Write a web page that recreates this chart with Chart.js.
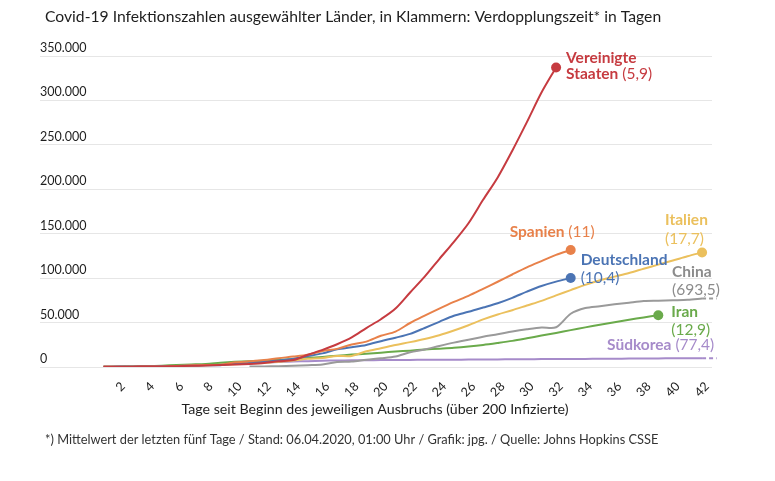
<!DOCTYPE html>
<html lang="de">
<head>
<meta charset="utf-8">
<title>Covid-19 Infektionszahlen</title>
<script src="https://cdn.jsdelivr.net/npm/chart.js@4.4.1/dist/chart.umd.min.js"></script>
<style>
    html, body { margin: 0; padding: 0; background: #fff; }
    #chartBox { position: relative; width: 775px; height: 481px; }
</style>
</head>
<body>
<div id="chartBox"><canvas id="covidChart" width="775" height="481"></canvas></div>
<script>
// Fälle seit Tag 1 (über 200 Infizierte), Quelle: Johns Hopkins CSSE
const usa = [217, 262, 402, 518, 583, 959, 1281, 1663, 2179, 2726, 3499, 4632, 6421, 7783, 13747, 19273,
    25600, 33276, 43847, 53740, 65778, 83836, 101657, 121478, 140886, 161807, 188172, 213372, 243453,
    275586, 308850, 337072];
const spain = [222, 259, 400, 500, 673, 1073, 1695, 2277, 2277, 5232, 6391, 7798, 9942, 11748, 13910,
    17963, 20410, 25374, 28603, 35136, 39885, 49515, 57786, 65719, 73235, 80110, 87956, 95923, 104118,
    112065, 119199, 126168, 131646];
const germany = [262, 482, 670, 799, 1040, 1176, 1457, 1908, 2078, 3675, 4585, 5795, 7272, 9257, 12327,
    15320, 19848, 22213, 24873, 29056, 32986, 37323, 43938, 50871, 57695, 62095, 66885, 71808, 77872,
    84794, 91159, 96092, 100123];
const italy = [229, 322, 453, 655, 888, 1128, 1694, 2036, 2502, 3089, 3858, 4636, 5883, 7375, 9172, 10149,
    12462, 12462, 17660, 21157, 24747, 27980, 31506, 35713, 41035, 47021, 53578, 59138, 63927, 69176,
    74386, 80589, 86498, 92472, 97689, 101739, 105792, 110574, 115242, 119827, 124632, 128948];
const china = [548, 643, 920, 1406, 2075, 2877, 5509, 6087, 8141, 9802, 11891, 16630, 19716, 23707, 27440,
    30587, 34110, 36814, 39829, 42354, 44386, 44759, 59895, 66358, 68413, 70513, 72434, 74211, 74619,
    75077, 75550, 77001];
const iran = [245, 388, 593, 978, 1501, 2336, 2922, 3513, 4747, 5823, 6566, 7161, 8042, 9000, 10075, 11364,
    12729, 13938, 14991, 16169, 17361, 18407, 19644, 20610, 21638, 23049, 24811, 27017, 29406, 32332,
    35408, 38309, 41495, 44605, 47593, 50468, 53183, 55743, 58226];
const southKorea = [204, 433, 602, 833, 977, 1261, 1766, 2337, 3150, 3736, 4335, 5186, 5621, 6088, 6593,
    7041, 7314, 7478, 7513, 7755, 7869, 7979, 8086, 8162, 8236, 8320, 8413, 8565, 8652, 8799, 8897, 8961,
    9037, 9137, 9241, 9332, 9478, 9583, 9661, 9786, 9887, 9976];

// China startet erst an Tag 11, China und Südkorea laufen über den Rand hinaus (gestrichelt)
const chinaStartDay = 11;
const tailDays = [42, 43];
const chinaTail = [77001, 77001];
const southKoreaTail = [9976, 9976];

// Verdopplungszeit in Tagen
const doubling = { usa: '(5,9)', spain: '(11)', germany: '(10,4)', italy: '(17,7)',
    china: '(693,5)', iran: '(12,9)', southKorea: '(77,4)' };

const xTicks = [2, 4, 6, 8, 10, 12, 14, 16, 18, 20, 22, 24, 26, 28, 30, 32, 34, 36, 38, 40, 42];
const yTicks = [0, 50000, 100000, 150000, 200000, 250000, 300000, 350000];

const titleText = 'Covid-19 Infektionszahlen ausgewählter Länder, in Klammern: Verdopplungszeit* in Tagen';
const xTitleText = 'Tage seit Beginn des jeweiligen Ausbruchs (über 200 Infizierte)';
const footText = '*) Mittelwert der letzten fünf Tage / Stand: 06.04.2020, 01:00 Uhr / Grafik: jpg. / Quelle: Johns Hopkins CSSE';

const FONT = "'Lato', 'Open Sans', sans-serif";

const colors = {
    usa: '#c63b40',
    spain: '#e8814a',
    germany: '#4b74b4',
    italy: '#ebc05d',
    china: '#9a9a9a',
    iran: '#6aaa4b',
    southKorea: '#a68bca'
};

function toPoints(values, startDay) {
    return values.map((v, i) => ({ x: startDay + i, y: v }));
}

function germanNumber(v) {
    return String(v).replace(/\B(?=(\d{3})+(?!\d))/g, '.');
}

// Punkt nur am letzten Wert
function lastDot(radius) {
    return function(ctx) {
        return ctx.dataIndex === ctx.dataset.data.length - 1 ? radius : 0;
    };
}

function lineSet(label, values, startDay, color, dot) {
    return {
        label: label,
        data: toPoints(values, startDay),
        borderColor: color,
        backgroundColor: color,
        borderWidth: 2,
        pointRadius: dot ? lastDot(5) : 0,
        pointHoverRadius: 0,
        pointBorderWidth: 0,
        tension: 0.3,
        fill: false
    };
}

function tailSet(label, values, color) {
    return {
        label: label,
        data: values.map((v, i) => ({ x: tailDays[i], y: v })),
        borderColor: color,
        borderWidth: 2,
        borderDash: [4, 3],
        pointRadius: 0,
        clip: false,
        fill: false
    };
}

// Beschriftungen am Linienende
const endLabels = [
    { ds: 0, bold: 'Vereinigte', normal: '', dx: 10, dy: -9, key: 'usa' },
    { ds: 0, bold: 'Staaten', normal: ' ' + doubling.usa, dx: 10, dy: 7, key: 'usa' },
    { ds: 1, bold: 'Spanien', normal: ' ' + doubling.spain, dx: -61, dy: -18, key: 'spain' },
    { ds: 2, bold: 'Deutschland', normal: '', dx: 10, dy: -18, key: 'germany' },
    { ds: 2, bold: '', normal: doubling.germany, dx: 10, dy: 0, key: 'germany' },
    { ds: 3, bold: 'Italien', normal: '', dx: -37, dy: -32, key: 'italy' },
    { ds: 3, bold: '', normal: doubling.italy, dx: -37, dy: -13, key: 'italy' },
    { ds: 4, bold: 'China', normal: '', dx: -30, dy: -27, key: 'china', labelColor: '#8c8c8c' },
    { ds: 4, bold: '', normal: doubling.china, dx: -30, dy: -9, key: 'china', labelColor: '#8c8c8c' },
    { ds: 5, bold: 'Iran', normal: '', dx: 13, dy: -3, key: 'iran' },
    { ds: 5, bold: '', normal: doubling.iran, dx: 13, dy: 15, key: 'iran' },
    { ds: 6, bold: 'Südkorea', normal: ' ' + doubling.southKorea, dx: -95, dy: -13, key: 'southKorea' }
];

const endLabelPlugin = {
    id: 'endLabels',
    afterDatasetsDraw(chart) {
        const ctx = chart.ctx;
        ctx.save();
        ctx.textBaseline = 'middle';
        ctx.textAlign = 'left';
        endLabels.forEach(function(l) {
            const meta = chart.getDatasetMeta(l.ds);
            const last = meta.data[meta.data.length - 1];
            let x = last.x + l.dx;
            const y = last.y + l.dy;
            ctx.fillStyle = l.labelColor || colors[l.key];
            if (l.bold) {
                ctx.font = 'bold 15.5px ' + FONT;
                ctx.fillText(l.bold, x, y);
                x += ctx.measureText(l.bold).width;
            }
            if (l.normal) {
                ctx.font = '15.5px ' + FONT;
                ctx.fillText(l.normal, x, y);
            }
        });
        ctx.restore();
    }
};

const textPlugin = {
    id: 'texts',
    afterDraw(chart) {
        const ctx = chart.ctx;
        ctx.save();
        ctx.fillStyle = '#1e1e1e';
        ctx.textBaseline = 'middle';
        ctx.textAlign = 'left';
        ctx.font = '15.7px ' + FONT;
        ctx.fillText(titleText, 45, 17);
        ctx.textAlign = 'center';
        ctx.font = '14.2px ' + FONT;
        ctx.fillText(xTitleText, 375, 409);
        ctx.textAlign = 'left';
        ctx.font = '12.8px ' + FONT;
        ctx.fillStyle = '#333';
        ctx.fillText(footText, 45, 440);
        ctx.restore();
    }
};

document.addEventListener('DOMContentLoaded', function() {
    const canvas = document.getElementById('covidChart');

    Chart.defaults.font.family = FONT;
    Chart.defaults.color = '#222';

    new Chart(canvas.getContext('2d'), {
        type: 'line',
        data: {
            datasets: [
                lineSet('Vereinigte Staaten', usa, 1, colors.usa, true),
                lineSet('Spanien', spain, 1, colors.spain, true),
                lineSet('Deutschland', germany, 1, colors.germany, true),
                lineSet('Italien', italy, 1, colors.italy, true),
                lineSet('China', china, chinaStartDay, colors.china, false),
                lineSet('Iran', iran, 1, colors.iran, true),
                lineSet('Südkorea', southKorea, 1, colors.southKorea, false),
                tailSet('China Trend', chinaTail, colors.china),
                tailSet('Südkorea Trend', southKoreaTail, colors.southKorea)
            ]
        },
        options: {
            responsive: false,
            animation: false,
            events: [],
            layout: { padding: { left: 40, right: 63, top: 56, bottom: 84 } },
            plugins: {
                legend: { display: false },
                tooltip: { enabled: false }
            },
            scales: {
                x: {
                    type: 'linear',
                    min: -3.35,
                    max: 42.68,
                    grid: { display: false },
                    border: { display: false },
                    afterBuildTicks: function(axis) {
                        axis.ticks = xTicks.map(v => ({ value: v }));
                    },
                    afterFit: function(axis) { axis.height = 30; },
                    ticks: {
                        autoSkip: false,
                        minRotation: 45,
                        maxRotation: 45,
                        padding: 4,
                        labelOffset: 5,
                        font: { size: 12.5 },
                        color: '#222',
                        callback: function(value) { return String(value); }
                    }
                },
                y: {
                    min: 0,
                    max: 350000,
                    grid: { color: '#e6e6e6', lineWidth: 1, drawTicks: false },
                    border: { display: false },
                    afterBuildTicks: function(axis) {
                        axis.ticks = yTicks.map(v => ({ value: v }));
                    },
                    afterFit: function(axis) { axis.width = 0; },
                    ticks: {
                        mirror: true,
                        padding: 0,
                        labelOffset: -8,
                        font: { size: 12.5 },
                        color: '#1e1e1e',
                        callback: function(value) { return germanNumber(value); }
                    }
                }
            }
        },
        plugins: [endLabelPlugin, textPlugin]
    });
});
</script>
</body>
</html>
